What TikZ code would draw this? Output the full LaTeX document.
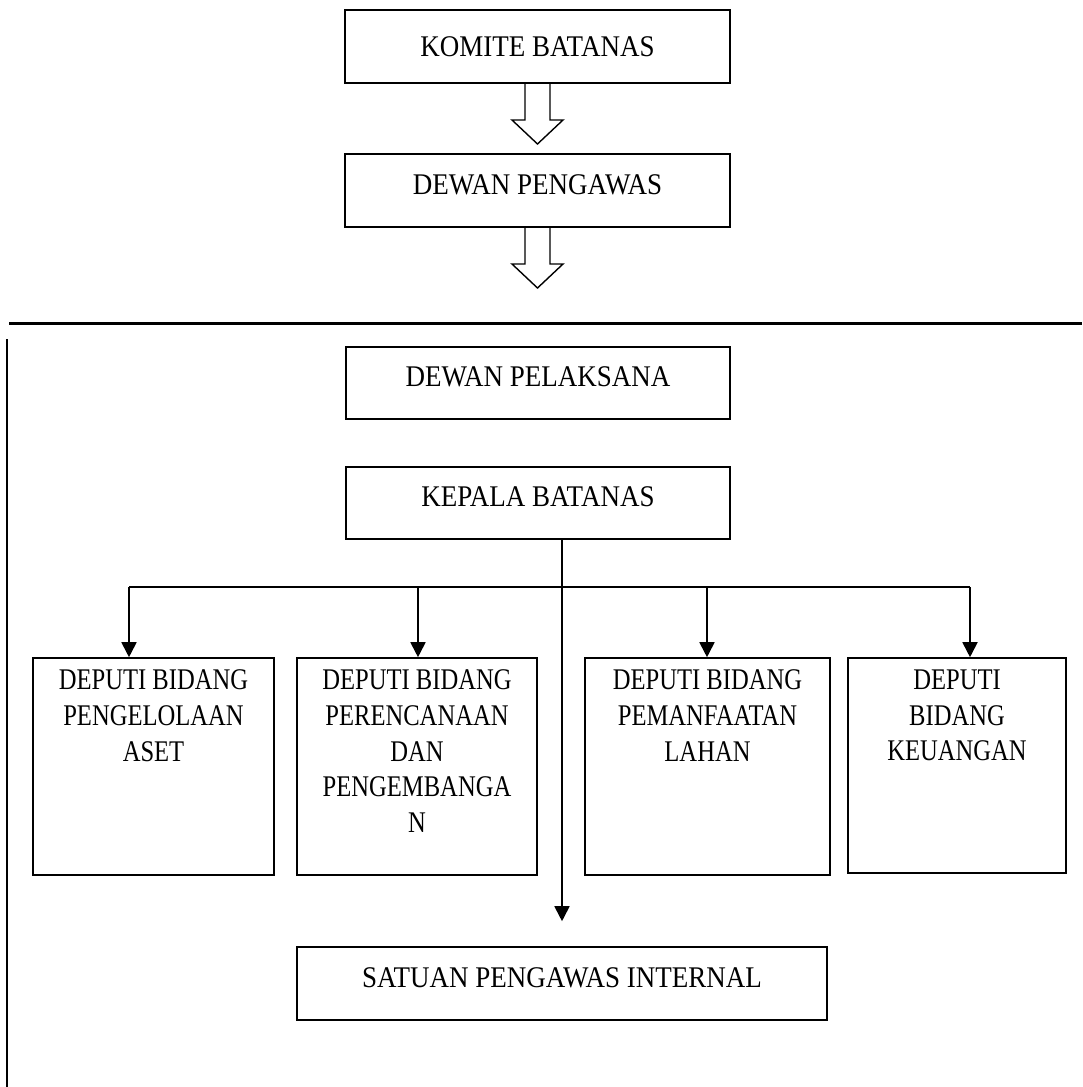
\documentclass[tikz,border=0pt]{standalone}
\usepackage{fontspec}
\setmainfont[FakeStretch=0.9]{Liberation Serif}
\newfontfamily\depfont[FakeStretch=0.82]{Liberation Serif}
\usetikzlibrary{arrows.meta,positioning,calc}
\newcommand{\hollowarrow}[2]{%
  \draw[line width=1.4pt,line join=miter] let \p1=(#1.south), \p2=(#2) in
    (\x1-12.5pt,\y1) -- (\x1-12.5pt,\y2+24pt) -- (\x1-25.5pt,\y2+24pt) -- (\x1,\y2)
    -- (\x1+25.5pt,\y2+24pt) -- (\x1+12.5pt,\y2+24pt) -- (\x1+12.5pt,\y1);}

\begin{document}
\begin{tikzpicture}[x=1pt,y=-1pt,
  box/.style={draw,line width=1.6pt,minimum width=385pt,minimum height=73pt,inner sep=0pt,font=\fontsize{30}{36}\selectfont},
  lowtext/.style={text depth=12pt},
  depbox/.style={draw,line width=1.6pt,minimum height=217pt,inner sep=0pt},
  deptext/.style={anchor=north,align=center,yshift=-9pt,font=\depfont\fontsize{30}{35.7}\selectfont},
  link/.style={line width=1.8pt},
  >={Triangle[width=15pt,length=15pt]}]
\useasboundingbox (0,0) rectangle (1082,1087);
\node[box] (komite) at (537.5,46.5) {KOMITE BATANAS};
\node[box,lowtext] (pengawas) at (537.5,190.5) {DEWAN PENGAWAS};
\coordinate (tip1) at (537.5,144);
\coordinate (tip2) at (537.5,288);
\hollowarrow{komite}{tip1}
\hollowarrow{pengawas}{tip2}
% frame lines
\draw[line width=3pt] (9,323) -- (1082,323);
\draw[line width=1.5pt] (7,339) -- (7,1087);
\node[box,lowtext,minimum width=384pt,minimum height=72pt] (pelaksana) at (538,383) {DEWAN PELAKSANA};
\node[box,lowtext,minimum width=384pt,minimum height=72pt] (kepala) at (538,503) {KEPALA BATANAS};
\node[depbox,minimum width=241pt,label={[deptext]north:DEPUTI BIDANG\\PENGELOLAAN\\ASET}] (aset) at (153.5,766.5) {};
\node[depbox,minimum width=240pt,label={[deptext]north:DEPUTI BIDANG\\PERENCANAAN\\DAN\\PENGEMBANGA\\N}] (renbang) at (417,766.5) {};
\node[depbox,minimum width=245pt,label={[deptext]north:DEPUTI BIDANG\\PEMANFAATAN\\LAHAN}] (lahan) at (707.5,766.5) {};
\node[depbox,minimum width=218pt,minimum height=215pt,label={[deptext]north:DEPUTI\\BIDANG\\KEUANGAN}] (keuangan) at (957,765.5) {};
\node[box,lowtext,minimum width=530pt] (spi) at (562,983.5) {SATUAN PENGAWAS INTERNAL};
% bus
\coordinate (b1) at (129,587);
\coordinate (b2) at (418,587);
\coordinate (b3) at (707,587);
\coordinate (b4) at (970,587);
\draw[link] (b1) -- (b4);
\foreach \b/\d in {b1/aset,b2/renbang,b3/lahan,b4/keuangan}
  \draw[link,->] (\b) -- (\b |- \d.north);
\draw[link,->] (kepala.south -| spi.north) -- ($(spi.north)+(0,-25)$);
\end{tikzpicture}
\end{document}
